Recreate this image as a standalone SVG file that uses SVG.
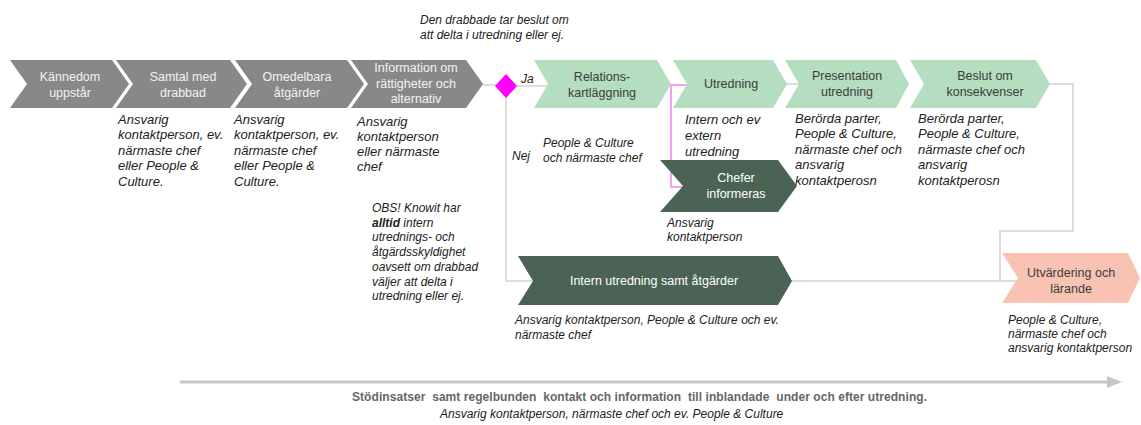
<svg xmlns="http://www.w3.org/2000/svg" width="1141" height="425" viewBox="0 0 1141 425">
<style>
.gray{fill:#888888}
.lg{fill:#B5DDBF}
.dg{fill:#4B6354}
.pk{fill:#F8C3B3}
.tw{font-family:"Liberation Sans",Arial,sans-serif;font-size:12.5px;fill:#F2F2F2;text-anchor:middle}
.tg{font-family:"Liberation Sans",Arial,sans-serif;font-size:12.5px;fill:#3C3C3C;text-anchor:middle}
.tdw{font-family:"Liberation Sans",Arial,sans-serif;font-size:12.5px;fill:#FFFFFF;text-anchor:middle}
.note{font-family:"Liberation Sans",Arial,sans-serif;font-size:13px;font-style:italic;fill:#222222}
.note12{font-family:"Liberation Sans",Arial,sans-serif;font-size:12px;font-style:italic;fill:#222222}
.conn{fill:none;stroke:#D2D2D2;stroke-width:1.5}
.pinkline{fill:none;stroke:#F2A2F2;stroke-width:2}
</style>
<defs>
<marker id="arr" markerWidth="5" markerHeight="4" refX="1" refY="2" orient="auto" markerUnits="strokeWidth">
<polygon points="0,0 5,2 0,4" fill="#C6C6C6"/>
</marker>
</defs>

<g id="connectors">
<line class="conn" x1="483" y1="85" x2="496" y2="85"/>
<line class="conn" x1="516" y1="86" x2="550" y2="86"/>
<polyline class="conn" points="506,97 506,281 535,281"/>
<line class="conn" x1="790" y1="281" x2="1020" y2="281"/>
<polyline class="conn" points="1048,84 1073,84 1073,231 1000,231 1000,281"/>
<line class="conn" x1="786" y1="84" x2="800" y2="84"/>
<polyline class="pinkline" points="688,85 671,85 671,187 684,187"/>
<line x1="180" y1="382" x2="1110" y2="382" stroke="#C6C6C6" stroke-width="3" marker-end="url(#arr)"/>
</g>

<g id="n1">
<polygon class="gray" points="10,60 112,60 129,84 112,108 10,108 27,84"/>
<text class="tw" x="70" y="81">Kännedom</text>
<text class="tw" x="70" y="97">uppstår</text>
</g>
<g id="n2">
<polygon class="gray" points="116,60 230,60 247,84 230,108 116,108 133,84"/>
<text class="tw" x="183" y="81">Samtal med</text>
<text class="tw" x="183" y="97">drabbad</text>
<text class="note" x="118" y="124">Ansvarig</text>
<text class="note" x="118" y="139">kontaktperson, ev.</text>
<text class="note" x="118" y="155">närmaste chef</text>
<text class="note" x="118" y="170">eller People &amp;</text>
<text class="note" x="118" y="186">Culture.</text>
</g>
<g id="n3">
<polygon class="gray" points="235,60 347,60 364,84 347,108 235,108 252,84"/>
<text class="tw" x="297" y="81">Omedelbara</text>
<text class="tw" x="297" y="97">åtgärder</text>
<text class="note" x="234" y="124">Ansvarig</text>
<text class="note" x="234" y="139">kontaktperson, ev.</text>
<text class="note" x="234" y="155">närmaste chef</text>
<text class="note" x="234" y="170">eller People &amp;</text>
<text class="note" x="234" y="186">Culture.</text>
</g>
<g id="n4">
<polygon class="gray" points="351,60 466,60 483,84 466,108 351,108 368,84"/>
<text class="tw" x="416" y="72">Information om</text>
<text class="tw" x="416" y="88">rättigheter  och</text>
<text class="tw" x="416" y="103">alternativ</text>
<text class="note" x="357" y="126">Ansvarig</text>
<text class="note" x="357" y="141">kontaktperson</text>
<text class="note" x="357" y="156">eller närmaste</text>
<text class="note" x="357" y="171">chef</text>
</g>
<g id="note-top">
<text class="note12" x="420" y="24">Den drabbade tar beslut om</text>
<text class="note12" x="420" y="39">att delta i utredning eller ej.</text>
</g>
<g id="note-obs">
<text class="note12" x="372" y="212">OBS! Knowit har</text>
<text class="note12" x="372" y="227"><tspan font-weight="bold">alltid</tspan> intern</text>
<text class="note12" x="372" y="241">utrednings- och</text>
<text class="note12" x="372" y="256">åtgärdsskyldighet</text>
<text class="note12" x="372" y="271">oavsett om drabbad</text>
<text class="note12" x="372" y="286">väljer att delta i</text>
<text class="note12" x="372" y="300">utredning eller ej.</text>
</g>
<g id="decision">
<polygon points="506,74 517,86 506,98 495,86" fill="#FF00FF"/>
<text class="note12" x="521" y="83">Ja</text>
<text class="note12" x="512" y="160">Nej</text>
<text class="note12" x="543" y="147">People &amp; Culture</text>
<text class="note12" x="543" y="162">och närmaste chef</text>
</g>
<g id="n5">
<polygon class="lg" points="534,60 657,60 671,84 657,108 534,108 548,84"/>
<text class="tg" x="602" y="81">Relations-</text>
<text class="tg" x="602" y="97">kartläggning</text>
</g>
<g id="n6">
<polygon class="lg" points="673,60 773,60 787,84 773,108 673,108 687,84"/>
<text class="tg" x="731" y="88">Utredning</text>
<text class="note" x="685" y="124">Intern och ev</text>
<text class="note" x="685" y="140">extern</text>
<text class="note" x="685" y="156">utredning</text>
</g>
<g id="n7">
<polygon class="lg" points="785,60 896,60 909,84 896,108 785,108 799,84"/>
<text class="tg" x="847" y="80">Presentation</text>
<text class="tg" x="847" y="96">utredning</text>
<text class="note" x="795" y="123">Berörda parter,</text>
<text class="note" x="795" y="138">People &amp; Culture,</text>
<text class="note" x="795" y="154">närmaste chef och</text>
<text class="note" x="795" y="169">ansvarig</text>
<text class="note" x="795" y="185">kontaktperosn</text>
</g>
<g id="n8">
<polygon class="lg" points="910,60 1036,60 1050,84 1036,108 910,108 924,84"/>
<text class="tg" x="985" y="80">Beslut om</text>
<text class="tg" x="985" y="96">konsekvenser</text>
<text class="note" x="918" y="123">Berörda parter,</text>
<text class="note" x="918" y="138">People &amp; Culture,</text>
<text class="note" x="918" y="154">närmaste chef och</text>
<text class="note" x="918" y="169">ansvarig</text>
<text class="note" x="918" y="185">kontaktperosn</text>
</g>
<g id="n9">
<polygon class="dg" points="660,160 778,160 797,186 778,212 660,212 683,186"/>
<text class="tdw" x="736" y="182">Chefer</text>
<text class="tdw" x="736" y="198">informeras</text>
<text class="note12" x="667" y="227">Ansvarig</text>
<text class="note12" x="667" y="241">kontaktperson</text>
</g>
<g id="n10">
<polygon class="dg" points="518,256 778,256 792,281 778,305 518,305 533,281"/>
<text class="tdw" x="654" y="285">Intern utredning  samt åtgärder</text>
<text class="note12" x="515" y="324">Ansvarig kontaktperson, People &amp; Culture och ev.</text>
<text class="note12" x="515" y="339">närmaste chef</text>
</g>
<g id="n11">
<polygon class="pk" points="1002,253 1128,253 1140,278 1128,303 1002,303 1018,278"/>
<text class="tg" x="1071" y="277">Utvärdering  och</text>
<text class="tg" x="1071" y="293">lärande</text>
<text class="note12" x="1008" y="324">People &amp; Culture,</text>
<text class="note12" x="1008" y="338">närmaste chef och</text>
<text class="note12" x="1008" y="352">ansvarig kontaktperson</text>
</g>
<g id="support">
<text x="352" y="401" xml:space="preserve" textLength="575" font-family="Liberation Sans, Arial, sans-serif" font-size="12" font-weight="bold" fill="#666666">Stödinsatser  samt regelbunden  kontakt och information  till inblandade  under och efter utredning.</text>
<text class="note12" x="440" y="418">Ansvarig kontaktperson, närmaste chef och ev. People &amp; Culture</text>
</g>
</svg>
